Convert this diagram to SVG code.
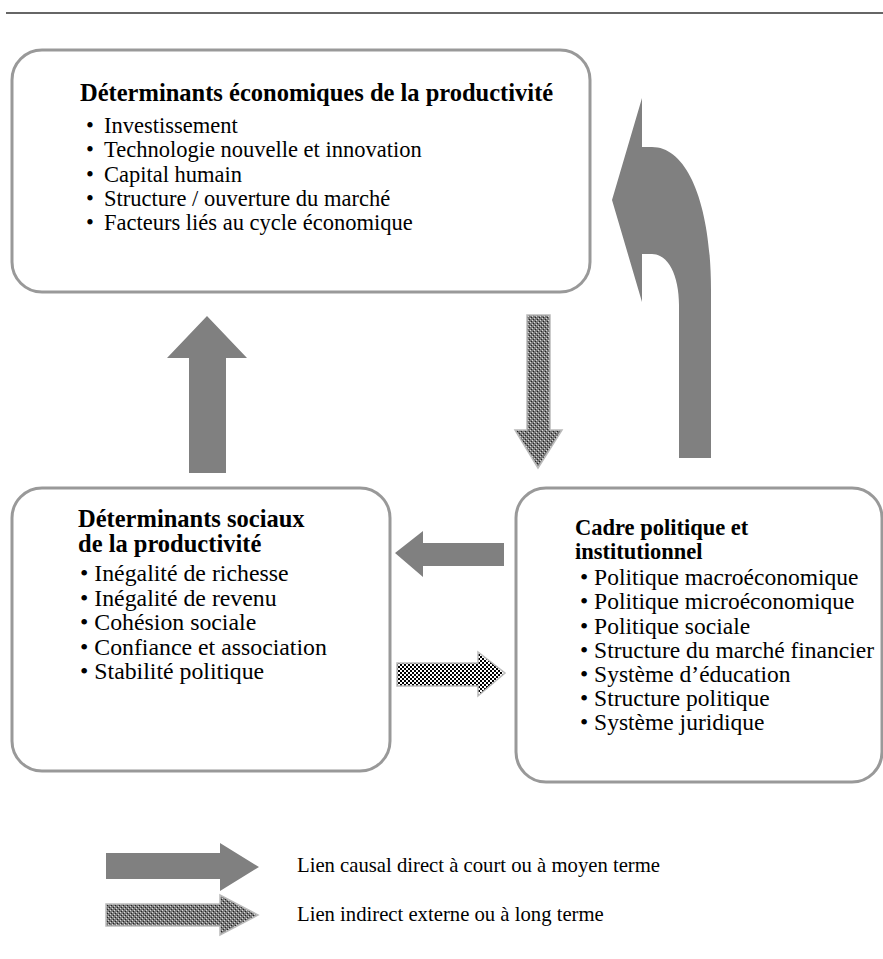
<svg xmlns="http://www.w3.org/2000/svg" width="883" height="959" viewBox="0 0 883 959">
<defs>
<pattern id="checker" width="4" height="4" patternUnits="userSpaceOnUse">
<rect width="4" height="4" fill="#fff"/>
<rect x="0" y="0" width="2" height="2" fill="#000"/>
<rect x="2" y="2" width="2" height="2" fill="#000"/>
</pattern>
<pattern id="dots" width="4" height="4" patternUnits="userSpaceOnUse">
<rect width="4" height="4" fill="#7a7a7a"/>
<rect x="0" y="0" width="1" height="1" fill="#d8d8d8"/>
<rect x="2" y="2" width="1" height="1" fill="#d8d8d8"/>
<rect x="1" y="3" width="1" height="1" fill="#222"/>
<rect x="3" y="1" width="1" height="1" fill="#222"/>
</pattern>
</defs>
<style>
.box{fill:#fff;stroke:#999;stroke-width:3}
.t{font-family:"Liberation Serif","Times New Roman",serif;font-size:22.5px;fill:#000}
.m{font-size:23.8px}
.r{font-size:23.5px}
.h{font-size:24.5px}
.hr{font-size:22.5px}
.lg{font-size:20.7px}
.b{font-weight:bold}
.solid{fill:#808080}
.chk{fill:url(#checker);stroke:#bbb;stroke-width:1.5}
.dot{fill:url(#dots);stroke:#bbb;stroke-width:1.5}
</style>
<rect width="883" height="959" fill="#fff"/>
<line x1="6" y1="13" x2="883" y2="13" stroke="#333" stroke-width="1.5"/>

<g id="econ">
<rect class="box" x="12" y="50" width="578" height="242" rx="30"/>
<text class="t h b" x="80" y="101">Déterminants économiques de la productivité</text>
<text class="t" x="86" y="133">•</text><text class="t" x="104" y="133">Investissement</text>
<text class="t" x="86" y="157">•</text><text class="t" x="104" y="157">Technologie nouvelle et innovation</text>
<text class="t" x="86" y="182">•</text><text class="t" x="104" y="182">Capital humain</text>
<text class="t" x="86" y="206">•</text><text class="t" x="104" y="206">Structure / ouverture du marché</text>
<text class="t" x="86" y="230">•</text><text class="t" x="104" y="230">Facteurs liés au cycle économique</text>
</g>

<g id="social">
<rect class="box" x="12" y="488" width="378" height="283" rx="30"/>
<text class="t h b" x="78" y="527">Déterminants sociaux</text>
<text class="t h b" x="78" y="552">de la productivité</text>
<text class="t m" x="80" y="581">• Inégalité de richesse</text>
<text class="t m" x="80" y="605.5">• Inégalité de revenu</text>
<text class="t m" x="80" y="630">• Cohésion sociale</text>
<text class="t m" x="80" y="654.5">• Confiance et association</text>
<text class="t m" x="80" y="679">• Stabilité politique</text>
</g>

<g id="policy">
<rect class="box" x="516" y="488" width="366" height="294" rx="30"/>
<text class="t hr b" x="575" y="535">Cadre politique et</text>
<text class="t hr b" x="575" y="559">institutionnel</text>
<text class="t r" x="580" y="585">• Politique macroéconomique</text>
<text class="t r" x="580" y="609">• Politique microéconomique</text>
<text class="t r" x="580" y="634">• Politique sociale</text>
<text class="t r" x="580" y="658">• Structure du marché financier</text>
<text class="t r" x="580" y="682">• Système d’éducation</text>
<text class="t r" x="580" y="706">• Structure politique</text>
<text class="t r" x="580" y="730">• Système juridique</text>
</g>

<g id="connectors">
<path class="solid" d="M207 316 L247 358 L226 358 L226 473 L189 473 L189 358 L167 358 Z"/>
<path class="dot" d="M527 315 L550 315 L550 430 L562 430 L538 468 L515 430 L527 430 Z"/>
<path class="solid" d="M395 553 L423 531 L423 543 L504 543 L504 566 L423 566 L423 577 Z"/>
<path class="chk" d="M397 663 L478 663 L478 652 L505 673 L478 696 L478 686 L397 686 Z"/>
<path class="solid" d="M642 98 L612 200 L642 302 L642 254 L652 254 C668 254 679 275 679 305 L679 458 L711 458 L711 290 C711 205 688 147 652 147 L642 147 Z"/>
</g>

<g id="legend">
<path class="solid" d="M106 853 L220 853 L220 843 L259 867 L220 891 L220 879 L106 879 Z"/>
<path class="dot" d="M106 904 L220 904 L220 895 L258 915 L220 935 L220 926 L106 926 Z"/>
<text class="t lg" x="297" y="872">Lien causal direct à court ou à moyen terme</text>
<text class="t lg" x="297" y="921">Lien indirect externe ou à long terme</text>
</g>
</svg>
